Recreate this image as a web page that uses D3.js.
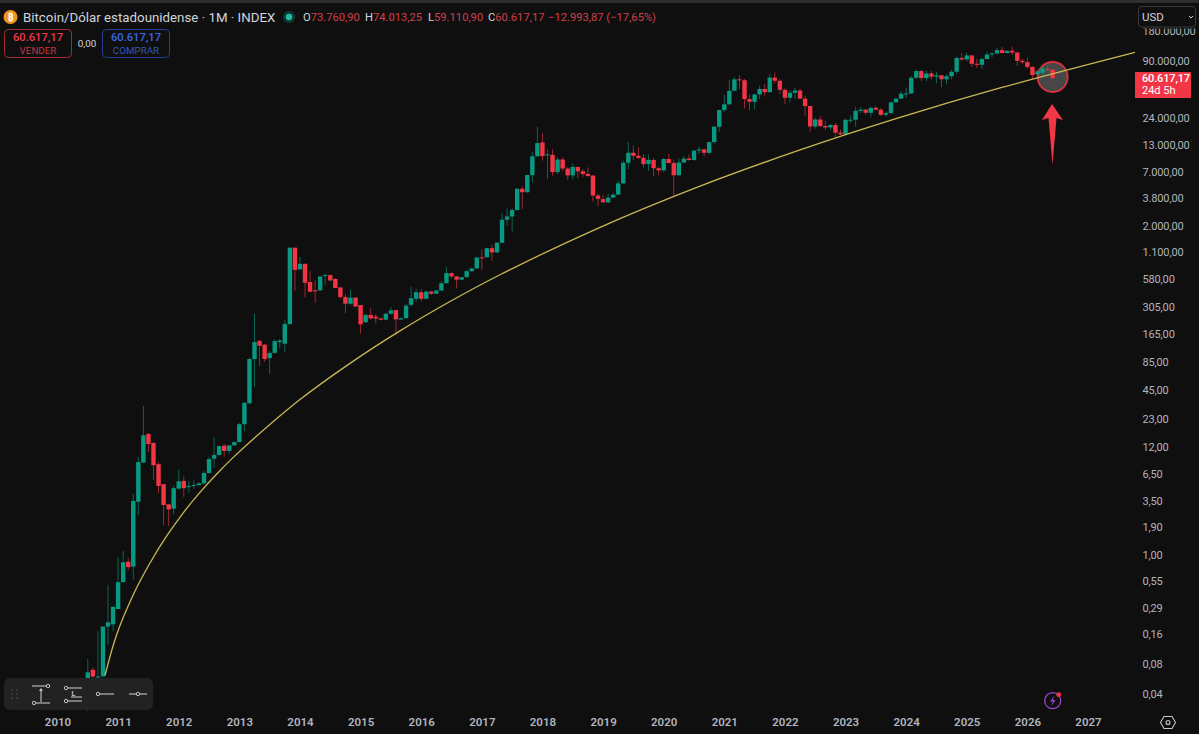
<!DOCTYPE html>
<html>
<head>
<meta charset="utf-8">
<script src="https://cdn.jsdelivr.net/npm/d3@7"></script>
<style>
html,body{margin:0;padding:0;background:#0f0f0f;overflow:hidden}
svg{display:block}
text{font-family:Roboto,"Noto Sans",sans-serif}
</style>
</head>
<body>
<svg id="chart" width="1199" height="734"></svg>
<script>
// first candle = July 2010, monthly
const firstMonthIndex = 6; // months since January 2010
const opens = [
 0.028,0.07,0.06,0.06,0.19,0.20,
 0.285,0.53,0.85,0.76,3.4,8.4,16.3,13.2,8.1,5.1,3.2,2.9,
 4.6,5.5,4.9,4.9,5.0,5.2,6.6,9.2,10,12.4,11,12.5,
 13.5,20.4,33,92,140,128,94,106,136,131,206,1205,
 730,830,545,450,450,630,640,585,480,385,330,380,
 320,215,255,245,235,228,262,285,229,236,322,370,
 430,370,437,416,448,530,670,620,575,610,700,745,
 965,965,1190,1080,1350,2300,2480,2870,4700,4340,6450,9950,
 13700,10200,10300,6900,9240,7500,6400,7780,7040,6620,6370,4020,
 3700,3430,3830,4100,5320,8570,10800,10080,9600,8300,9150,7550,
 7190,9350,8520,6420,8620,9450,9135,11350,11650,10780,13800,19700,
 29000,33100,45200,58900,57700,37300,35050,41500,47100,43800,61300,57000,
 46300,38500,43200,45500,37700,31800,19800,23300,20050,19400,20500,17170,
 16540,23130,23150,28480,29250,27200,30480,29230,25940,26970,34650,37720,
 42260,42580,61130,71300,60670,67500,62700,64600,59000,63300,70200,96500,
 93400,102400,84300,82500,94200,104600,107100,115700,108200,114000,109500,90400,
 87600,78600,66000,68500,74500,73760.90
];
const highs = [
 0.09,0.074,0.17,0.19,0.50,0.30,
 0.95,1.09,0.93,4.06,9.56,31,16.6,13.5,8.5,5.1,3.2,4.9,
 7.2,6.1,5.5,5.6,5.3,6.9,9.6,15,12.4,12.9,12.6,13.6,
 21,34,95,263,142,130,110,146,146,226,1205,1205,
 970,835,700,570,625,670,645,600,485,410,460,385,
 320,258,298,260,240,268,305,286,240,330,490,465,
 465,445,445,455,560,770,680,625,610,720,760,965,
 1150,1190,1300,1360,2700,2980,2990,4750,4950,6470,11000,19700,
 17000,11700,11700,9700,9700,7750,8400,7800,7400,7700,6500,4200,
 4050,4200,4300,5650,9000,13800,12800,12300,10500,10350,9600,7750,
 9550,10500,9200,9470,10080,10400,11450,12450,12050,14000,19900,29300,
 41000,58300,61800,64900,59500,41300,42500,50500,52900,67000,69000,59000,
 47900,45800,48200,47500,40000,31900,24300,25200,22700,21000,21500,18400,
 23800,25200,31000,31000,29800,31400,31800,30200,28000,35200,38400,44700,
 48900,63900,73800,72800,71900,72000,70000,65100,66500,73600,99800,108300,
 109500,102700,95000,97900,111900,110600,123200,124500,114700,126000,110500,94500,
 97900,79300,74000,79000,80500,74013.25
];
const lows = [
 0.027,0.05,0.05,0.06,0.125,0.17,
 0.285,0.53,0.70,0.56,2.5,8.4,10.7,5.6,4.15,1.98,1.94,2.55,
 4.5,3.8,4.2,4.6,4.9,5.1,6.5,7.4,9.9,9.6,10.3,12.4,
 13.4,17.4,33,48,78,86,65,104,118,108,205,443,
 725,382,430,335,445,510,560,470,370,265,322,305,
 165,212,230,210,225,226,258,160,226,235,310,345,
 350,365,405,415,445,525,600,470,570,605,690,740,
 720,960,880,1075,1345,2000,1750,2860,2950,4300,5450,9900,
 9000,5900,6400,6550,7050,5800,5850,6000,6150,6200,3500,3130,
 3400,3380,3780,4050,5300,7400,9100,9300,7700,7100,6300,6400,
 6900,8450,3850,6400,8600,8950,9000,10500,9900,10500,13300,17600,
 27700,32300,44900,47000,30000,28800,29300,37300,39600,43300,53500,42000,
 33000,34300,37500,37600,25400,17600,18800,19500,18200,18200,15500,16300,
 16500,21400,19600,27000,25900,24800,28900,25400,24900,26600,34100,37600,
 38500,41900,59300,56500,56500,58400,53700,49000,52500,58900,66800,90500,
 89200,78200,76600,74600,93400,98200,105100,107300,107300,103500,80600,84500,
 75700,60000,63000,65500,71500,59110.90
];
const closes = [
 0.066,0.06,0.06,0.19,0.21,0.30,
 0.53,0.84,0.75,3.46,8.5,15.8,12.9,7.9,4.9,3.15,2.85,4.65,
 5.45,4.65,4.9,5.0,5.2,6.6,9.1,10,12.3,11,12.5,13.5,
 20.4,33.4,92,136,125,92,106,139,141,206,1205,720,
 830,535,435,445,620,640,565,475,385,330,380,310,
 205,255,235,235,228,262,283,230,236,315,375,430,
 370,437,415,448,530,670,620,575,610,700,745,960,
 960,1190,1080,1350,2300,2480,2875,4700,4340,6470,9950,13500,
 10000,10400,6900,9240,7500,6400,7780,7040,6625,6310,4020,3720,
 3430,3830,4100,5320,8570,10800,10080,9600,8300,9150,7550,7190,
 9350,8520,6420,8620,9450,9135,11350,11650,10780,13800,19700,29000,
 33100,45200,58900,57700,37300,35050,41500,47100,43800,61300,57000,46300,
 38500,43200,45500,37700,31800,19800,23300,20050,19400,20500,17170,16540,
 23130,23150,28480,29250,27200,30480,29230,25940,26970,34650,37720,42260,
 42580,61130,71300,60670,67500,62700,64600,59000,63300,70200,96500,93400,
 102400,84300,82500,94200,104600,107100,115700,108200,114000,109500,90400,87600,
 78600,65000,71000,76000,73760.90,60617.17
];

// yellow curve: month since Jan 2010 and price
const trendMonths = [9.4,11.72,15.0,18.31,21.62,24.9,28.2,31.52,34.8,38.1,48.0,57.9,67.8,77.7,87.6,107.4,127.2,147,166.8,186.6,213.3];
const trendPrices = [0.0613,0.1582,0.3968,0.8256,1.541,2.633,4.22,6.454,9.471,13.52,36.0,83.1,176,347,644,1930,5000,11540,24450,48230,109800];

const yearLabels = [2010,2011,2012,2013,2014,2015,2016,2017,2018,2019,2020,2021,2022,2023,2024,2025,2026,2027];
const priceTicks = [180000,90000,24000,13000,7000,3800,2000,1100,580,305,165,85,45,23,12,6.5,3.5,1.9,1,0.55,0.29,0.16,0.08,0.04];
const lastPrice = 60617.17;

const esFormat = d3.formatLocale({decimal:",",thousands:".",grouping:[3],currency:["","$"]}).format(",.2f");
const svg = d3.select("#chart");
const BG = "#0f0f0f", UP = "#089981", DOWN = "#f23645", GREY = "#b2b5be";

svg.append("rect").attr("width",1199).attr("height",734).attr("fill",BG);
svg.append("rect").attr("width",1199).attr("height",3).attr("fill","#2e2e2e");

const x = d3.scaleLinear().domain([0,204]).range([57.5,1088]);
const y = d3.scaleLog().domain([0.04,90000]).range([694,61]);

// highlight circle behind the last candle
svg.append("circle").attr("cx",x(197)).attr("cy",77).attr("r",15)
  .attr("fill","#474747").attr("stroke","#d8323f").attr("stroke-width",1.8);

const candles = closes.map((c,i)=>({m:firstMonthIndex+i,o:opens[i],h:highs[i],l:lows[i],c}));
const colorOf = d => d.c < d.o ? DOWN : UP;

const g = svg.append("g").attr("class","candles");
g.selectAll("line").data(candles).join("line")
  .attr("x1",d=>x(d.m)).attr("x2",d=>x(d.m))
  .attr("y1",d=>y(d.h)).attr("y2",d=>y(d.l))
  .attr("stroke",colorOf).attr("stroke-width",1).attr("stroke-opacity",.62);
g.selectAll("rect").data(candles).join("rect")
  .attr("x",d=>x(d.m)-2.2).attr("width",4.4)
  .attr("y",d=>Math.min(y(d.o),y(d.c)))
  .attr("height",d=>Math.max(1,Math.abs(y(d.o)-y(d.c))))
  .attr("fill",colorOf);

// trend curve
const trendLine = d3.line().x(d=>x(d[0])).y(d=>y(d[1])).curve(d3.curveCatmullRom.alpha(.5));
svg.append("path").datum(trendMonths.map((m,i)=>[m,trendPrices[i]]))
  .attr("d",trendLine).attr("fill","none").attr("stroke","#c9b854").attr("stroke-width",1.3);

// axes
const yAxis = d3.axisRight(y).tickValues(priceTicks).tickFormat(esFormat).tickSize(0).tickPadding(0);
const ya = svg.append("g").attr("transform","translate(1142.5,0)").call(yAxis);
ya.select(".domain").remove();
ya.selectAll("text").attr("fill",GREY).attr("font-size",11).attr("letter-spacing","-.15").style("font-family","Roboto,sans-serif");

const xAxis = d3.axisBottom(x).tickValues(yearLabels.map((yr,i)=>i*12)).tickFormat((m,i)=>yearLabels[i]).tickSize(0).tickPadding(0);
const xa = svg.append("g").attr("transform","translate(0,718)").call(xAxis);
xa.select(".domain").remove();
xa.selectAll("text").attr("fill",GREY).attr("font-size",11.5).attr("font-weight",600).style("font-family","Roboto,sans-serif");

// arrow annotation
svg.append("path").attr("d","M1052 104 L1063 120 L1056.5 118 L1052.5 165 L1048.5 118 L1042 120 Z").attr("fill",DOWN);

// last price label
svg.append("rect").attr("x",1135).attr("y",72).attr("width",56).attr("height",26).attr("fill",DOWN);
svg.append("text").attr("x",1142).attr("y",82).attr("fill","#fff").attr("font-size",11).attr("letter-spacing","-.15").attr("font-weight",500).text(esFormat(lastPrice));
svg.append("text").attr("x",1142).attr("y",94).attr("fill","#fff").attr("font-size",11).text("24d 5h");

// USD selector
svg.append("rect").attr("x",1130).attr("y",3).attr("width",69).attr("height",25.5).attr("fill",BG);
svg.append("rect").attr("x",1138.5).attr("y",6.5).attr("width",57).attr("height",20.5).attr("rx",3)
  .attr("fill",BG).attr("stroke","#3a3a3a");
svg.append("text").attr("x",1142).attr("y",21).attr("fill","#d1d4dc").attr("font-size",11.5).text("USD");
svg.append("path").attr("d","M1189 16 L1191 18 L1193 16").attr("fill","none").attr("stroke","#d1d4dc");

// header
svg.append("circle").attr("cx",10.5).attr("cy",17).attr("r",7).attr("fill","#f7931a");
svg.append("text").attr("x",10.5).attr("y",20.5).attr("text-anchor","middle").attr("fill","#fff").attr("font-size",10).attr("font-weight",700).text("₿");
svg.append("text").attr("x",23).attr("y",21.5).attr("fill","#d1d4dc").attr("font-size",13.3).text("Bitcoin/Dólar estadounidense · 1M · INDEX");
svg.append("circle").attr("cx",289).attr("cy",17).attr("r",6).attr("fill","#0d3a35");
svg.append("circle").attr("cx",289).attr("cy",17).attr("r",3.2).attr("fill","#26b8a0");

const ohlcText = [["O","73.760,90",303],["H","74.013,25",365],["L","59.110,90",428],["C","60.617,17",488]];
ohlcText.forEach(([k,v,px])=>{
  const t = svg.append("text").attr("x",px).attr("y",21).attr("font-size",11.2);
  t.append("tspan").attr("fill","#d1d4dc").text(k);
  t.append("tspan").attr("fill","#d0404b").text(v);
});
svg.append("text").attr("x",548).attr("y",21).attr("fill","#d0404b").attr("font-size",11.2).text("−12.993,87 (−17,65%)");

// buy / sell boxes
svg.append("rect").attr("x",4.5).attr("y",29.5).attr("width",67).attr("height",28).attr("rx",4).attr("fill","none").attr("stroke","#a52a35");
svg.append("text").attr("x",38).attr("y",41).attr("text-anchor","middle").attr("fill",DOWN).attr("font-size",11.2).attr("font-weight",500).text("60.617,17");
svg.append("text").attr("x",38).attr("y",53.5).attr("text-anchor","middle").attr("fill","#c8333f").attr("font-size",9.8).text("VENDER");
svg.append("text").attr("x",87).attr("y",46.5).attr("text-anchor","middle").attr("fill","#d1d4dc").attr("font-size",9.8).text("0,00");
svg.append("rect").attr("x",102.5).attr("y",29.5).attr("width",67).attr("height",28).attr("rx",4).attr("fill","none").attr("stroke","#253f96");
svg.append("text").attr("x",136).attr("y",41).attr("text-anchor","middle").attr("fill","#3a68e8").attr("font-size",11.2).attr("font-weight",500).text("60.617,17");
svg.append("text").attr("x",136).attr("y",53.5).attr("text-anchor","middle").attr("fill","#3257b8").attr("font-size",9.8).text("COMPRAR");

// drawing toolbar
const tb = svg.append("g");
tb.append("rect").attr("x",4).attr("y",678).attr("width",149).attr("height",32).attr("rx",6).attr("fill","#222222");
[[12,690],[17,690],[12,694],[17,694],[12,698],[17,698]].forEach(([a,b])=>tb.append("circle").attr("cx",a).attr("cy",b).attr("r",.8).attr("fill","#5a5a5a"));
const ic = "#c4c4c4";
const seg = (a,b,c,d)=>tb.append("line").attr("x1",a).attr("y1",b).attr("x2",c).attr("y2",d).attr("stroke",ic).attr("stroke-width",1.1);
const dot = (a,b)=>tb.append("circle").attr("cx",a).attr("cy",b).attr("r",1.7).attr("fill","#222").attr("stroke",ic).attr("stroke-width",1);
seg(32,686,46,686);dot(48,686);seg(36,703,50,703);dot(34,703);seg(41,689,41,702);
tb.append("path").attr("d","M39 691 L41 688 L43 691 Z").attr("fill",ic);
seg(68,688,82,688);dot(66,688);seg(71,697,82,697);seg(68,701,82,701);dot(66,701);
tb.append("text").attr("x",73.5).attr("y",695.5).attr("text-anchor","middle").attr("fill",ic).attr("font-size",7).attr("font-weight",700).text("L");
dot(98,694);seg(100,694,114,694);
seg(129,694,136,694);seg(140,694,147,694);dot(138,694);

// flash icon
svg.append("circle").attr("cx",1052.7).attr("cy",700.7).attr("r",8).attr("fill","none").attr("stroke","#9a45c9").attr("stroke-width",1.3);
svg.append("path").attr("d","M1054.5 695.5 L1050 701.5 L1052.8 701.5 L1051 706 L1055.5 700 L1052.8 700 Z").attr("fill","#9a45c9");
svg.append("circle").attr("cx",1058.7).attr("cy",694.7).attr("r",2.4).attr("fill",DOWN);

// settings icon
svg.append("path").attr("d","M1164 717.5 L1172 717.5 L1175.5 723.5 L1172 729.5 L1164 729.5 L1160.5 723.5 Z").attr("transform","translate(0,-1)").attr("fill","none").attr("stroke","#c4c4c4").attr("stroke-width",1.1);
svg.append("circle").attr("cx",1168).attr("cy",722.5).attr("r",2).attr("fill","none").attr("stroke","#c4c4c4").attr("stroke-width",1.1);
</script>
</body>
</html>
